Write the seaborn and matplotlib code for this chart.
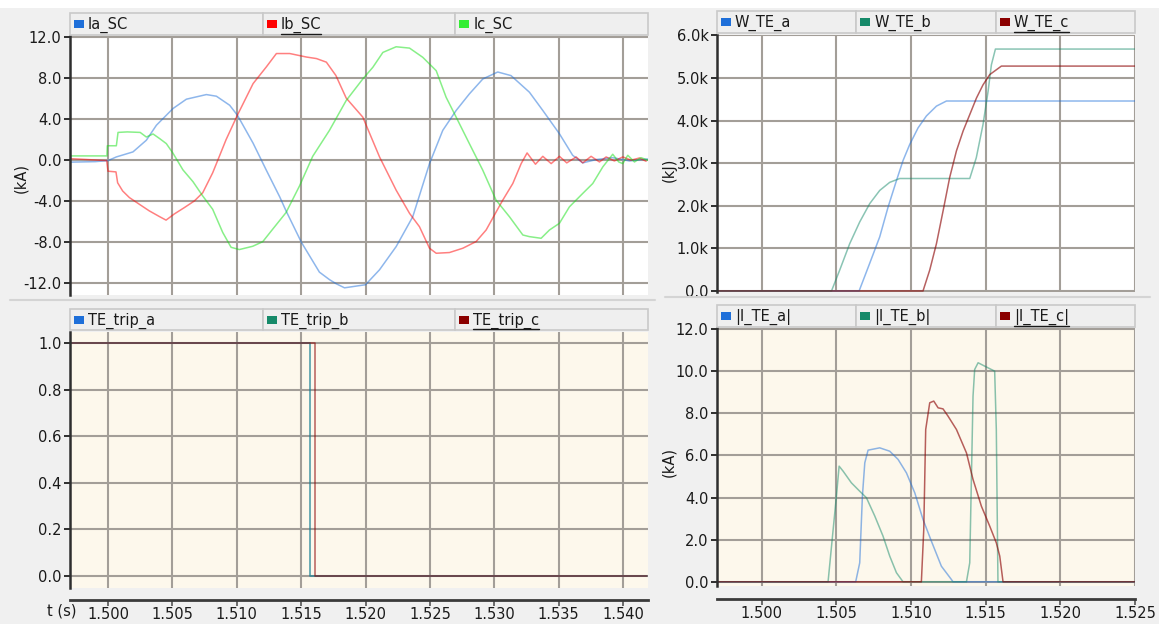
import matplotlib
matplotlib.use("Agg")
import numpy as np
import pandas as pd
import matplotlib.pyplot as plt
import seaborn as sns
from matplotlib.patches import Rectangle
from matplotlib.lines import Line2D
from matplotlib.ticker import FuncFormatter

# ------------------------------------------------------------------ data
# Top-left: short-circuit currents (kA)
ia_t = [1.4970, 1.4990, 1.5000, 1.50065, 1.50194, 1.50298, 1.50376, 1.50505, 1.50609, 1.50764,
        1.50842, 1.50945, 1.51005, 1.51127, 1.51230, 1.51334, 1.51383, 1.51502, 1.51642, 1.51720,
        1.51772, 1.51837, 1.52000, 1.52109, 1.52238, 1.52367, 1.52497, 1.52600, 1.52704, 1.52807,
        1.52911, 1.53027, 1.53130, 1.53273, 1.53377, 1.53506, 1.53609, 1.53687, 1.53790, 1.53920,
        1.54050, 1.54190]
ia_v = [-0.25, -0.2, -0.1, 0.26, 0.75, 1.89, 3.35, 4.98, 5.89, 6.34,
        6.18, 5.3, 4.33, 1.6, -1.04, -3.64, -5.0, -8.06, -10.97, -11.7,
        -12.1, -12.5, -12.2, -10.74, -8.48, -5.57, -0.39, 2.85, 4.79, 6.41,
        7.86, 8.54, 8.19, 6.57, 4.79, 2.52, 0.42, -0.32, 0.0, 0.19,
        -0.13, 0.06]

ib_t = [1.4970, 1.4999, 1.5000, 1.50062, 1.50075, 1.50114, 1.50166, 1.50243, 1.50321, 1.50399,
        1.50451, 1.50515, 1.50593, 1.50671, 1.50736, 1.50813, 1.50865, 1.50917, 1.51005, 1.51127,
        1.51230, 1.51308, 1.51412, 1.51541, 1.51619, 1.51696, 1.51770, 1.51850, 1.51979, 1.52109,
        1.52238, 1.52342, 1.52419, 1.52497, 1.52549, 1.52652, 1.52756, 1.52859, 1.52937, 1.52994,
        1.53066, 1.53144, 1.53209, 1.53255, 1.53320, 1.53377, 1.53442, 1.53506, 1.53563, 1.53636,
        1.53687, 1.53752, 1.53817, 1.53869, 1.53933, 1.53998, 1.54063, 1.54127, 1.54179]
ib_v = [0.1, -0.1, -1.13, -1.2, -2.26, -3.06, -3.7, -4.35, -5.0, -5.55,
        -5.9, -5.3, -4.68, -4.03, -3.23, -1.29, 0.32, 1.94, 4.33, 7.41,
        9.04, 10.34, 10.34, 10.0, 9.85, 9.5, 8.2, 6.0, 4.14, 0.26,
        -2.98, -5.24, -6.54, -8.64, -9.13, -9.06, -8.64, -7.99, -6.86, -5.57,
        -3.95, -2.33, -0.39, 0.65, -0.45, 0.32, -0.39, 0.32, -0.32, 0.26,
        -0.32, 0.32, -0.23, 0.26, -0.13, 0.26, -0.06, 0.16, -0.16]

ic_t = [1.4970, 1.49992, 1.49995, 1.50065, 1.50078, 1.50150, 1.50250, 1.50298, 1.50350, 1.50401,
        1.50453, 1.50505, 1.50582, 1.50660, 1.50736, 1.50813, 1.50891, 1.50956, 1.51020, 1.51124,
        1.51202, 1.51280, 1.51383, 1.51487, 1.51590, 1.51720, 1.51850, 1.51979, 1.52057, 1.52135,
        1.52238, 1.52342, 1.52445, 1.52549, 1.52626, 1.52704, 1.52807, 1.52911, 1.53014, 1.53118,
        1.53222, 1.53273, 1.53364, 1.53429, 1.53506, 1.53584, 1.53687, 1.53765, 1.53843, 1.53920,
        1.53967, 1.53998, 1.54037, 1.54089, 1.54140, 1.54192]
ic_v = [0.36, 0.36, 1.35, 1.35, 2.65, 2.7, 2.65, 2.2, 2.5, 2.05,
        1.56, 0.62, -1.0, -2.15, -3.55, -4.84, -7.1, -8.55, -8.77, -8.45,
        -8.0, -6.77, -5.16, -2.58, 0.32, 2.85, 5.76, 7.86, 9.0, 10.45,
        11.0, 10.87, 9.97, 8.67, 6.08, 4.14, 1.55, -1.04, -3.95, -5.57,
        -7.35, -7.51, -7.67, -6.86, -6.21, -4.6, -3.3, -2.33, -0.71, 0.52,
        -0.23, -0.39, 0.42, -0.23, 0.19, -0.06]

# Top-right: energy (kJ)
wa_t = [1.4970, 1.50652, 1.50723, 1.50790, 1.50846, 1.50902, 1.50946, 1.50991, 1.51047, 1.51103,
        1.51170, 1.51237, 1.5250]
wa_v = [0, 0, 650, 1270, 1970, 2590, 3060, 3440, 3830, 4110, 4340, 4460, 4460]
wb_t = [1.4970, 1.50467, 1.50522, 1.50589, 1.50656, 1.50723, 1.50790, 1.50857, 1.50924, 1.51393,
        1.51437, 1.51482, 1.51516, 1.51538, 1.51565, 1.5250]
wb_v = [0, 0, 490, 1110, 1620, 2050, 2360, 2550, 2640, 2640, 3130, 3910, 4690, 5310, 5680, 5680]
wc_t = [1.4970, 1.51080, 1.51125, 1.51170, 1.51215, 1.51259, 1.51304, 1.51349, 1.51393, 1.51438,
        1.51482, 1.51527, 1.51605, 1.5250]
wc_v = [0, 0, 490, 1110, 1890, 2670, 3290, 3760, 4140, 4530, 4840, 5080, 5280, 5280]

# Bottom-left: trip signals
ta_t = [1.4970, 1.51570, 1.5419]
ta_v = [1, 0, 0]
tb_t = [1.4970, 1.51570, 1.5419]
tb_v = [1, 0, 0]
tc_t = [1.4970, 1.51610, 1.5419]
tc_v = [1, 0, 0]

# Bottom-right: |I_TE| (kA)
xa_t = [1.4970, 1.50629, 1.50656, 1.50674, 1.50690, 1.50712, 1.50790, 1.50857, 1.50913, 1.50969,
        1.51025, 1.51080, 1.51136, 1.51203, 1.51270, 1.51281, 1.5250]
xa_v = [0, 0, 0.9, 4.07, 5.65, 6.25, 6.36, 6.2, 5.81, 5.17, 4.22, 2.96, 1.93, 0.74, 0.11, 0, 0]
xb_t = [1.4970, 1.50444, 1.50478, 1.50500, 1.50518, 1.50545, 1.50600, 1.50656, 1.50701, 1.50757,
        1.50812, 1.50857, 1.50902, 1.50946, 1.51371, 1.51393, 1.51404, 1.51415, 1.51426, 1.51449,
        1.51493, 1.51560, 1.51571, 1.51582, 1.5250]
xb_v = [0, 0, 2.48, 4.07, 5.49, 5.25, 4.7, 4.3, 3.99, 3.12,
        2.17, 1.22, 0.43, 0, 0, 0.9, 4.86, 8.81, 10.08, 10.4,
        10.24, 10.0, 7.23, 0, 0]
xc_t = [1.4970, 1.51069, 1.51085, 1.51098, 1.51125, 1.51152, 1.51181, 1.51214, 1.51248, 1.51304,
        1.51371, 1.51415, 1.51471, 1.51527, 1.51571, 1.51594, 1.51616, 1.5250]
xc_v = [0, 0, 2.48, 7.23, 8.5, 8.58, 8.26, 8.21, 7.86, 7.23, 6.12, 4.86, 3.59, 2.64, 1.85, 1.22, 0, 0]

left_xticks = [1.500, 1.505, 1.510, 1.515, 1.520, 1.525, 1.530, 1.535, 1.540]
right_xticks = [1.500, 1.505, 1.510, 1.515, 1.520, 1.525]
tl_yticks = [12.0, 8.0, 4.0, 0.0, -4.0, -8.0, -12.0]
tr_yticks = [0, 1000, 2000, 3000, 4000, 5000, 6000]
bl_yticks = [0.0, 0.2, 0.4, 0.6, 0.8, 1.0]
br_yticks = [0.0, 2.0, 4.0, 6.0, 8.0, 10.0, 12.0]

# ------------------------------------------------------------------ style
sns.set_theme(style="white")
plt.rcParams['font.family'] = ['DejaVu Sans']
BG = '#f0f0f0'
GRID = '#a39e98'
SPINE = '#2e2e2e'
CREAM = '#fdf8ec'
TXT = '#1a1a1a'
C_BLUE, C_RED, C_GREEN = '#1e6fd9', '#ff0000', '#12e012'
C_TEAL, C_DRED = '#168a6a', '#8b0000'
FS = 10.5

W, H = 1159, 624
fig = plt.figure(figsize=(W / 100, H / 100), dpi=100, facecolor=BG)


def fx(px):
    return px / W


def fy(py):
    return 1 - py / H


def add_axes(l, t, r, b):
    return fig.add_axes([fx(l), fy(b), (r - l) / W, (b - t) / H])


def panel(ax, xlim, ylim, xt, yt, face, fmt):
    ax.set_facecolor(face)
    ax.set_xlim(*xlim)
    ax.set_ylim(*ylim)
    ax.set_xticks(xt)
    ax.set_yticks(yt)
    ax.yaxis.set_major_formatter(FuncFormatter(fmt))
    ax.grid(True, color=GRID, lw=1.5)
    ax.set_axisbelow(True)
    ax.tick_params(axis='x', length=0, labelbottom=False)
    ax.tick_params(axis='y', length=4, width=1.4, color=SPINE, labelsize=FS,
                   pad=2, direction='out', left=True, labelcolor=TXT)
    for s in ['top', 'right', 'bottom']:
        ax.spines[s].set_visible(False)
    ax.spines['left'].set_color(SPINE)
    ax.spines['left'].set_linewidth(1.8)
    ax.set_xlabel('')
    ax.set_ylabel('')


def draw(ax, t, v, color, alpha=0.5, step=False):
    df = pd.DataFrame({'t': t, 'v': v})
    kw = dict(drawstyle='steps-post') if step else {}
    sns.lineplot(data=df, x='t', y='v', ax=ax, color=color, lw=1.1, alpha=alpha,
                 sort=False, estimator=None, **kw)


def strip(l, r, y, xlim, xt):
    sx = add_axes(l, y - 1, r, y)
    sx.set_facecolor('none')
    sx.set_xlim(*xlim)
    sx.set_xticks(xt)
    sx.set_xticklabels([f'{v:.3f}' for v in xt])
    sx.set_yticks([])
    for s in ['top', 'right', 'left']:
        sx.spines[s].set_visible(False)
    sx.spines['bottom'].set_color('#3a3a3a')
    sx.spines['bottom'].set_linewidth(2)
    sx.tick_params(axis='x', length=4, width=1.2, color='#555555', direction='out',
                   labelsize=FS, pad=1, labelcolor=TXT, bottom=True)
    return sx


underlines = []


def legend_bar(l, r, t, b, items, uidx):
    n = len(items)
    cw = (r - l) / n
    yc = (t + b) / 2
    for i, (name, col) in enumerate(items):
        x0 = l + i * cw
        fig.patches.append(Rectangle((fx(x0), fy(b)), cw / W, (b - t) / H,
                                     transform=fig.transFigure, facecolor='#efefef',
                                     edgecolor='#c9c9c9', lw=1.2, zorder=1))
        fig.patches.append(Rectangle((fx(x0 + 4), fy(yc + 4)), 10 / W, 8 / H,
                                     transform=fig.transFigure, facecolor=col,
                                     edgecolor='none', zorder=2))
        tx = fig.text(fx(x0 + 18), fy(yc + 1), name, ha='left', va='center',
                      fontsize=FS, color=TXT, zorder=3)
        if i == uidx:
            underlines.append(tx)


# ------------------------------------------------------------------ panels
L_XLIM = (1.49705, 1.54194)
R_XLIM = (1.49700, 1.52500)

# top-left
ax1 = add_axes(70, 36, 648, 295)
draw(ax1, ia_t, ia_v, C_BLUE)
draw(ax1, ib_t, ib_v, C_RED)
draw(ax1, ic_t, ic_v, C_GREEN)
panel(ax1, L_XLIM, (-13.2, 12.05), left_xticks, tl_yticks, 'white', lambda v, p: f'{v:.1f}')

# top-right
ax2 = add_axes(717, 35, 1135, 292)
draw(ax2, wa_t, wa_v, C_BLUE)
draw(ax2, wb_t, wb_v, C_TEAL)
draw(ax2, wc_t, wc_v, C_DRED, alpha=0.62)
panel(ax2, R_XLIM, (-25, 6010), right_xticks, tr_yticks, 'white',
      lambda v, p: '0.0' if v == 0 else f'{v / 1000:.1f}k')

# bottom-left
ax3 = add_axes(70, 332, 648, 588)
draw(ax3, ta_t, ta_v, C_BLUE, step=True)
draw(ax3, tb_t, tb_v, C_TEAL, step=True)
draw(ax3, tc_t, tc_v, C_DRED, alpha=0.62, step=True)
panel(ax3, L_XLIM, (-0.052, 1.047), left_xticks, bl_yticks, CREAM, lambda v, p: f'{v:.1f}')

# bottom-right
ax4 = add_axes(717, 328, 1135, 586)
draw(ax4, xa_t, xa_v, C_BLUE)
draw(ax4, xb_t, xb_v, C_TEAL)
draw(ax4, xc_t, xc_v, C_DRED, alpha=0.62)
panel(ax4, R_XLIM, (-0.2, 12.05), right_xticks, br_yticks, CREAM, lambda v, p: f'{v:.1f}')

# x-axis strips
strip(70, 648, 600, L_XLIM, left_xticks)
strip(717, 1135, 599, R_XLIM, right_xticks)
fig.text(fx(62), fy(611), 't (s)', ha='center', va='center', fontsize=FS, color=TXT)

# y labels
fig.text(fx(21), fy(178), '(kA)', rotation=90, ha='center', va='center', fontsize=FS, color=TXT)
fig.text(fx(669), fy(170), '(kJ)', rotation=90, ha='center', va='center', fontsize=FS, color=TXT)
fig.text(fx(669), fy(462), '(kA)', rotation=90, ha='center', va='center', fontsize=FS, color=TXT)

# legend bars
legend_bar(70, 648, 13, 35, [('Ia_SC', C_BLUE), ('Ib_SC', C_RED), ('Ic_SC', '#33ee33')], 1)
legend_bar(717, 1135, 11, 33, [('W_TE_a', C_BLUE), ('W_TE_b', C_TEAL), ('W_TE_c', C_DRED)], 2)
legend_bar(70, 648, 309, 330, [('TE_trip_a', C_BLUE), ('TE_trip_b', C_TEAL), ('TE_trip_c', C_DRED)], 2)
legend_bar(717, 1135, 305, 327, [('|I_TE_a|', C_BLUE), ('|I_TE_b|', C_TEAL), ('|I_TE_c|', C_DRED)], 2)

# separators / top white strip
fig.patches.append(Rectangle((0, fy(8)), 1, 8 / H, transform=fig.transFigure,
                             facecolor='white', edgecolor='none', zorder=0))
for (x0, x1, yy) in [(10, 655, 300), (665, 1150, 297)]:
    fig.lines.append(Line2D([fx(x0), fx(x1)], [fy(yy), fy(yy)], transform=fig.transFigure,
                            color='#d4d4d4', lw=1.5))

# underline selected legend labels
fig.canvas.draw()
rend = fig.canvas.get_renderer()
for tx in underlines:
    bb = tx.get_window_extent(rend)
    yline = bb.y0 - 0.5
    fig.lines.append(Line2D([bb.x0 / W, bb.x1 / W], [yline / H, yline / H],
                            transform=fig.transFigure, color=TXT, lw=1.0, zorder=4))

fig.savefig('out.png', dpi=100, facecolor=BG)
